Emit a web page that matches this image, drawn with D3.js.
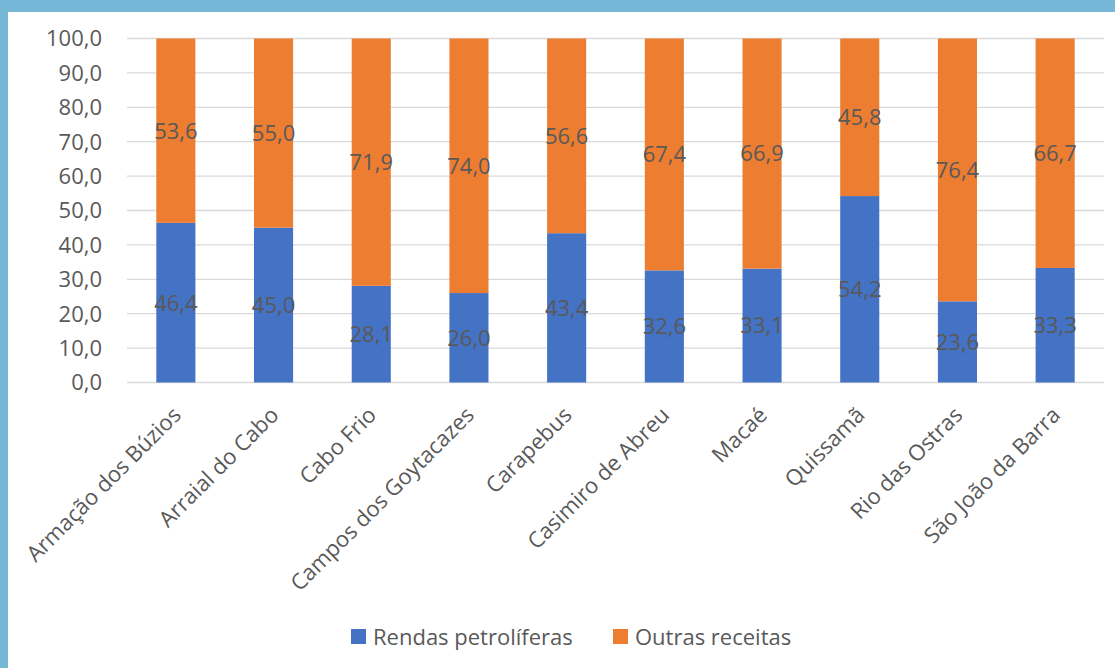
<!DOCTYPE html>
<html>
<head>
<meta charset="utf-8">
<script src="https://cdn.jsdelivr.net/npm/d3@7"></script>
<style>
  html, body { margin: 0; padding: 0; }
  body { width: 1115px; height: 668px; overflow: hidden; background: #76b6d6; }
  text { font-family: "Open Sans", "Noto Sans", sans-serif; fill: #595959; }
</style>
</head>
<body>
<div id="chart"></div>
<script>
// municipalities and shares (%)
const municipios = ["Armação dos Búzios", "Arraial do Cabo", "Cabo Frio", "Campos dos Goytacazes",
  "Carapebus", "Casimiro de Abreu", "Macaé", "Quissamã", "Rio das Ostras", "São João da Barra"];
const rendasPetroliferas = [46.4, 45.0, 28.1, 26.0, 43.4, 32.6, 33.1, 54.2, 23.6, 33.3];
const outrasReceitas = [53.6, 55.0, 71.9, 74.0, 56.6, 67.4, 66.9, 45.8, 76.4, 66.7];
const seriesNames = ["Rendas petrolíferas", "Outras receitas"];
const yTicks = [0, 10, 20, 30, 40, 50, 60, 70, 80, 90, 100];

const width = 1115, height = 668;
const colors = ["#4472c4", "#ed7d31"];
const fmt = v => v.toFixed(1).replace(".", ",");

const svg = d3.select("#chart").append("svg")
  .attr("width", width)
  .attr("height", height);

// white chart panel over the blue frame
svg.append("rect")
  .attr("x", 8).attr("y", 12)
  .attr("width", width - 8).attr("height", height - 12)
  .attr("fill", "#fff");

const x = d3.scaleBand()
  .domain(municipios)
  .range([127, 1104])
  .paddingInner(0.6)
  .paddingOuter(0.3);

const y = d3.scaleLinear()
  .domain([0, 100])
  .range([382.5, 38.5]);

// gridlines
svg.append("g")
  .selectAll("line")
  .data(yTicks)
  .join("line")
  .attr("x1", 127).attr("x2", 1104)
  .attr("y1", d => y(d)).attr("y2", d => y(d))
  .attr("stroke", "#d9d9d9")
  .attr("stroke-width", 1.3);

// y labels
svg.append("g")
  .selectAll("text")
  .data(yTicks)
  .join("text")
  .attr("x", 102)
  .attr("y", d => y(d))
  .attr("dy", "0.36em")
  .attr("text-anchor", "end")
  .style("font-size", "22px")
  .text(d => fmt(d));

// stack the data
const rows = municipios.map((m, i) => ({ name: m, r: rendasPetroliferas[i], o: outrasReceitas[i] }));
const stacked = d3.stack().keys(["r", "o"])(rows);

const layer = svg.append("g")
  .selectAll("g")
  .data(stacked)
  .join("g")
  .attr("fill", (d, i) => colors[i]);

layer.selectAll("rect")
  .data(d => d)
  .join("rect")
  .attr("x", d => x(d.data.name))
  .attr("y", d => y(d[1]))
  .attr("width", x.bandwidth())
  .attr("height", d => y(d[0]) - y(d[1]));

// data labels in the middle of each segment
layer.selectAll("text")
  .data(d => d)
  .join("text")
  .attr("x", d => x(d.data.name) + x.bandwidth() / 2)
  .attr("y", d => y((d[0] + d[1]) / 2))
  .attr("dy", "0.36em")
  .attr("text-anchor", "middle")
  .style("font-size", "22px")
  .text(d => fmt(d[1] - d[0]));

// rotated category labels
svg.append("g")
  .selectAll("text")
  .data(municipios)
  .join("text")
  .attr("transform", d => `translate(${x(d) + x.bandwidth() / 2 + 1},${411}) rotate(-45)`)
  .attr("text-anchor", "end")
  .attr("dy", "0.35em")
  .style("font-size", "22px")
  .text(d => d);

// legend
const legendX = [351, 613];
const legend = svg.append("g")
  .selectAll("g")
  .data(seriesNames)
  .join("g")
  .attr("transform", (d, i) => `translate(${legendX[i]},629)`);

legend.append("rect")
  .attr("width", 15).attr("height", 15)
  .attr("fill", (d, i) => colors[i]);

legend.append("text")
  .attr("x", 22)
  .attr("y", 16)
  .style("font-size", "22px")
  .text(d => d);
</script>
</body>
</html>
